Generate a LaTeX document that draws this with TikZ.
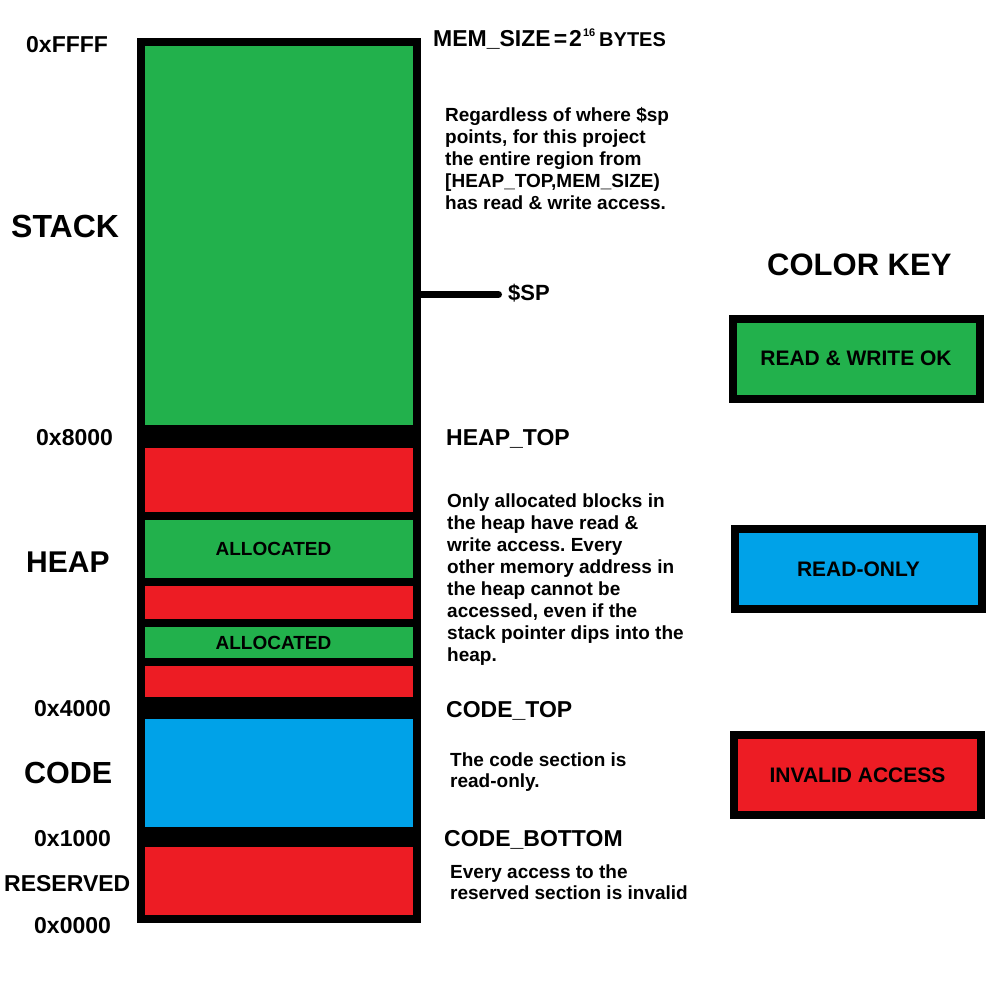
\documentclass[tikz,border=0pt]{standalone}
\usepackage{fontspec}
\setmainfont{Liberation Sans}
\definecolor{pgreen}{HTML}{22B14C}
\definecolor{pred}{HTML}{ED1C24}
\definecolor{pblue}{HTML}{00A2E8}
\frenchspacing
\begin{document}
\begin{tikzpicture}[x=1pt,y=-1pt,
  lbl/.style={anchor=base west,inner sep=0pt,font=\bfseries\fontsize{23}{23}\selectfont},
  big/.style={anchor=base west,inner sep=0pt,font=\bfseries\fontsize{31}{31}\selectfont},
  para/.style={anchor=base west,inner sep=0pt,font=\bfseries\fontsize{19}{19}\selectfont},
  alloc/.style={inner sep=0pt,font=\bfseries\fontsize{19}{19}\selectfont},
  keybox/.style={draw=black,line width=8pt,minimum width=247pt,minimum height=80pt,inner sep=0pt,
                 font=\bfseries\fontsize{21}{21}\selectfont}]
\useasboundingbox (0,0) rectangle (1000,1000);
\fill[white] (0,0) rectangle (1000,1000);
% memory column
\fill[black] (137,38) rectangle (421,923);
\fill[pgreen] (145,46) rectangle (413,425);
\fill[pred]   (145,448) rectangle (413,512);
\fill[pgreen] (145,520) rectangle (413,578);
\fill[pred]   (145,586) rectangle (413,619);
\fill[pgreen] (145,627) rectangle (413,658);
\fill[pred]   (145,666) rectangle (413,697);
\fill[pblue]  (145,719) rectangle (413,827);
\fill[pred]   (145,847) rectangle (413,915);
\node[alloc] (al1) at (273.5,549) {ALLOCATED};
\node[alloc] (al2) at (273.5,642.5) {ALLOCATED};
% stack pointer
\coordinate (spL) at (418,294.5);
\coordinate (spR) at (498.5,294.5);
\draw[line width=7pt,line cap=round] (spL) -- (spR);
\node[lbl,font=\bfseries\fontsize{22}{22}\selectfont] (sp) at (508,300) {\$SP};
% left labels
\node[lbl] (aFFFF) at (26,53) {0xFFFF};
\node[big,font=\bfseries\fontsize{32}{32}\selectfont] (stack) at (11,237) {STACK};
\node[lbl] (a8000) at (36,445) {0x8000};
\node[big,font=\bfseries\fontsize{30}{30}\selectfont] (heap) at (26,572) {HEAP};
\node[lbl] (a4000) at (34,716) {0x4000};
\node[big,font=\bfseries\fontsize{30.5}{30.5}\selectfont] (code) at (24,783) {CODE};
\node[lbl] (a1000) at (34,846) {0x1000};
\node[lbl] (reserved) at (4,891) {RESERVED};
\node[lbl] (a0000) at (34,933) {0x0000};
% right labels
\node[lbl] (memsize) at (433,47) {MEM\_SIZE\hspace{3pt}=\hspace{2pt}2\hspace{1pt}\raisebox{10pt}{\fontsize{11}{11}\selectfont 16}\hspace{4pt}{\fontsize{20}{20}\selectfont BYTES}};
\node[lbl] (heaptop) at (446,445) {HEAP\_TOP};
\node[lbl] (codetop) at (446,717) {CODE\_TOP};
\node[lbl] (codebot) at (444,846) {CODE\_BOTTOM};
% paragraphs
\node[para] (s1) at (445,122) {Regardless of where \$sp};
\node[para] (s2) at (445,144) {points, for this project};
\node[para] (s3) at (445,166) {the entire region from};
\node[para] (s4) at (445,188) {[HEAP\_TOP,MEM\_SIZE)};
\node[para] (s5) at (445,210) {has read \& write access.};
\node[para] (h1) at (447,507) {Only allocated blocks in};
\node[para] (h2) at (447,529) {the heap have read \&};
\node[para] (h3) at (447,551) {write access. Every};
\node[para] (h4) at (447,573) {other memory address in};
\node[para] (h5) at (447,595) {the heap cannot be};
\node[para] (h6) at (447,617) {accessed, even if the};
\node[para] (h7) at (447,639) {stack pointer dips into the};
\node[para] (h8) at (447,661) {heap.};
\node[para] (c1) at (450,766) {The code section is};
\node[para] (c2) at (450,787) {read-only.};
\node[para] (r1) at (450,878) {Every access to the};
\node[para] (r2) at (450,899) {reserved section is invalid};
% color key
\node[big] (colorkey) at (767,275) {COLOR KEY};
\node[keybox,fill=pgreen] (krw) at (856,358.5) {READ \& WRITE OK};
\node[keybox,fill=pblue] (kro) at (858.5,569) {READ-ONLY};
\node[keybox,fill=pred] (kinv) at (857.5,775) {INVALID ACCESS};
\end{tikzpicture}
\end{document}
